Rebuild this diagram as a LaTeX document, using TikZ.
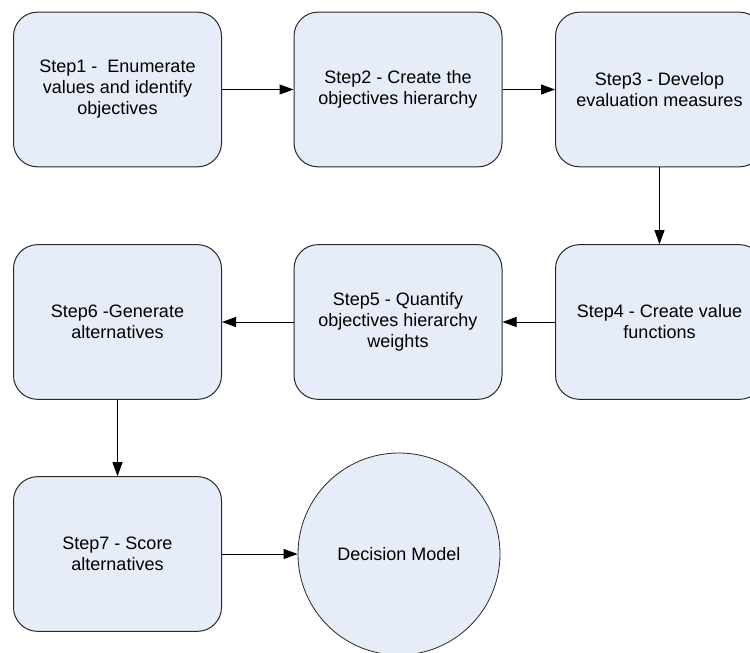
\documentclass[tikz,border=0pt]{standalone}
\usepackage{fontspec}
\setmainfont{Liberation Sans}
\usetikzlibrary{arrows.meta}

\definecolor{boxfill}{RGB}{231,237,248}
\definecolor{boxline}{RGB}{40,40,40}

\tikzset{
	stepbox/.style={draw=boxline, line width=0.75pt, fill=boxfill, rounded corners=18pt,
		minimum width=156pt, minimum height=116pt, align=center, inner sep=2pt,
		font=\fontsize{13.5pt}{15.8pt}\selectfont},
	modelnode/.style={draw=boxline, line width=0.6pt, fill=boxfill, circle,
		minimum size=151.5pt, inner sep=0pt, font=\fontsize{13.5pt}{15.8pt}\selectfont},
	flow/.style={line width=0.75pt, -{Triangle[length=10.5pt, width=7.5pt]}}
}

\begin{document}
\begin{tikzpicture}[x=0.75pt,y=0.75pt,yscale=-1,xscale=1]
		\useasboundingbox (0,0) rectangle (750,653);
		\clip (0,0) rectangle (750,653);
		
		% Step boxes, first row
		\node [stepbox] (step1) at (117.5,89.5) {Step1 -\ \ Enumerate\\values and identify\\objectives};
		\node [stepbox] (step2) at (398,89.5) {Step2 - Create the\\objectives hierarchy};
		\node [stepbox] (step3) at (659.5,89.5) {Step3 - Develop\\evaluation measures};
		
		% Step boxes, second row
		\node [stepbox] (step4) at (659.5,322) {Step4 - Create value\\functions};
		\node [stepbox] (step5) at (398,322) {Step5 - Quantify\\objectives hierarchy\\weights};
		\node [stepbox] (step6) at (117.5,322) {Step6 -Generate\\alternatives};
		
		% Third row
		\node [stepbox] (step7) at (117.5,554) {Step7 - Score\\alternatives};
		\node [modelnode] (model) at (399,554) {Decision Model};
		
		% Connectors
		\draw [flow] (step1) -- (step2);
		\draw [flow] (step2) -- (step3);
		\draw [flow] (step3) -- (step4);
		\draw [flow] (step4) -- (step5);
		\draw [flow] (step5) -- (step6);
		\draw [flow] (step6) -- (step7);
		\draw [flow] (step7) -- (model);
		
\end{tikzpicture}
\end{document}
